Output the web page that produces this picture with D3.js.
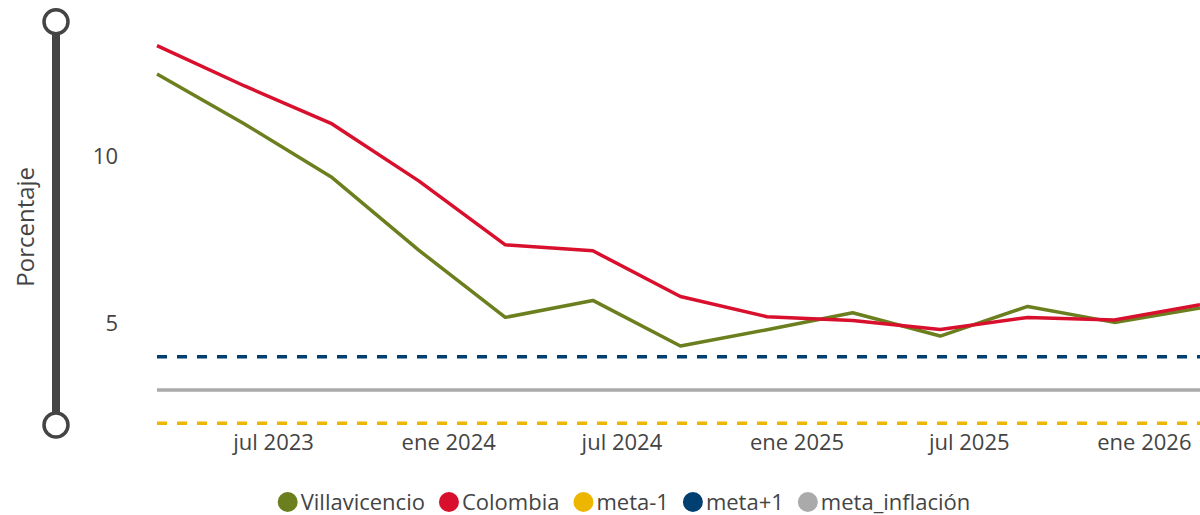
<!DOCTYPE html>
<html><head><meta charset="utf-8">
<script src="https://cdn.jsdelivr.net/npm/d3@7"></script>
<style>
body{margin:0;background:#fff;}
svg{display:block;font-family:"Open Sans","Noto Sans",sans-serif;}
</style></head>
<body>
<svg id="chart" width="1200" height="515"></svg>
<script>
const periods = ["2023-03","2023-06","2023-09","2023-12","2024-03","2024-06","2024-09","2024-12","2025-03","2025-06","2025-09","2025-12","2026-03"];
const villavicencio = [12.49,10.99,9.38,7.20,5.18,5.69,4.32,4.81,5.32,4.62,5.51,5.03,5.46];
const colombia = [13.34,12.13,10.99,9.28,7.36,7.18,5.81,5.20,5.09,4.82,5.18,5.10,5.56];
const metaMinus1 = periods.map(() => 2);
const metaPlus1 = periods.map(() => 4);
const metaInflacion = periods.map(() => 3);
const xTicks = ["2023-07","2024-01","2024-07","2025-01","2025-07","2026-01"];
const xTickLabels = ["jul 2023","ene 2024","jul 2024","ene 2025","jul 2025","ene 2026"];
const yTicks = [5,10];
const yTitle = "Porcentaje";
const legendNames = ["Villavicencio","Colombia","meta-1","meta+1","meta_inflación"];

const colors = {Villavicencio:"#6B7F1E", Colombia:"#D9102D", "meta-1":"#EDB600", "meta+1":"#003F6F", "meta_inflación":"#AAAAAA"};
const textColor = "#444";

const parse = d3.timeParse("%Y-%m");
const dates = periods.map(parse);
const svg = d3.select("#chart");

const x = d3.scaleTime().domain([dates[0], dates[dates.length-1]]).range([157, 1200]);
const y = d3.scaleLinear().domain([2, 14]).range([423.3, 23.7]);

// left slider-like y-axis decoration
svg.append("line").attr("x1",56).attr("x2",56).attr("y1",y(14.06)).attr("y2",y(1.95))
  .attr("stroke","#444").attr("stroke-width",8);
[14.06,1.95].forEach(v=>{
  svg.append("circle").attr("cx",56).attr("cy",y(v)).attr("r",12)
    .attr("fill","#fff").attr("stroke","#444").attr("stroke-width",3.5);
});

// y title
svg.append("text").attr("transform",`translate(34,${y(7.9)}) rotate(-90)`)
  .attr("text-anchor","middle").attr("font-size",24).attr("fill",textColor).text(yTitle);

// y axis labels
const yAxis = d3.axisLeft(y).tickValues(yTicks).tickSize(0).tickPadding(0);
const gy = svg.append("g").attr("transform","translate(118,0)").call(yAxis);
gy.select(".domain").remove();
gy.selectAll("text").attr("font-size",22).attr("fill",textColor).attr("font-family","'Open Sans',sans-serif");

// x axis labels
const xAxis = d3.axisBottom(x).tickValues(xTicks.map(parse)).tickFormat((d,i)=>xTickLabels[i]).tickSize(0).tickPadding(0);
const gx = svg.append("g").attr("transform","translate(0,434)").call(xAxis);
gx.select(".domain").remove();
gx.selectAll("text").attr("font-size",22).attr("fill",textColor).attr("font-family","'Open Sans',sans-serif");

const line = d3.line().x((d,i)=>x(dates[i])).y(d=>y(d));

const series = [
  {name:"meta_inflación", values:metaInflacion, dash:null, w:3.5},
  {name:"meta-1", values:metaMinus1, dash:"10,10", w:3.5},
  {name:"meta+1", values:metaPlus1, dash:"10,10", w:3.5},
  {name:"Villavicencio", values:villavicencio, dash:null, w:3.5},
  {name:"Colombia", values:colombia, dash:null, w:3.5}
];
series.forEach(s=>{
  svg.append("path").datum(s.values).attr("d",line)
    .attr("fill","none").attr("stroke",colors[s.name]).attr("stroke-width",s.w)
    .attr("stroke-dasharray",s.dash).attr("stroke-linejoin","round");
});

// legend
const lg = svg.append("g");
let lx = 0;
legendNames.forEach((n,i)=>{
  lg.append("circle").attr("cx",lx+10).attr("cy",0).attr("r",10).attr("fill",colors[n]);
  const t = lg.append("text").attr("x",lx+23).attr("y",0).attr("dy","0.35em")
    .attr("font-size",22).attr("fill",textColor).text(n);
  lx += 23 + t.node().getComputedTextLength() + (i < legendNames.length-1 ? 14 : 0);
});
lg.attr("transform",`translate(${624 - lx/2},502)`);
</script>
</body></html>
